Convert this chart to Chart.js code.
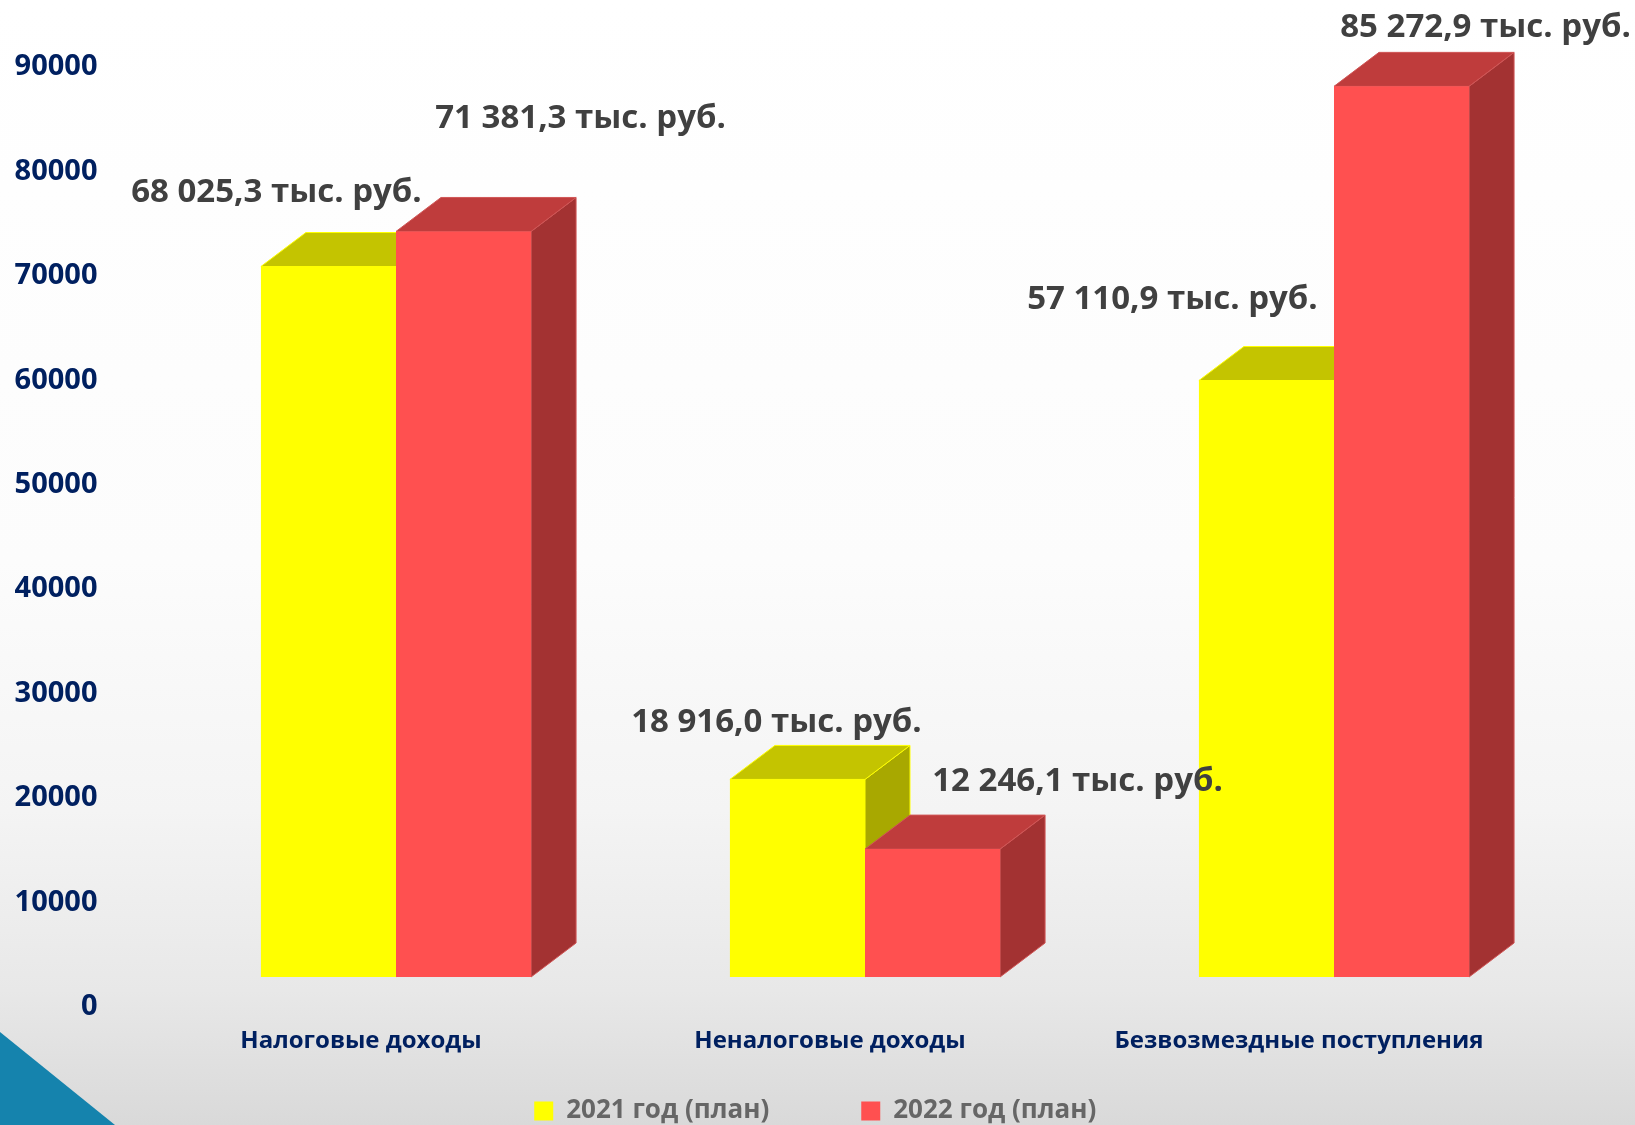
<!DOCTYPE html>
<html><head><meta charset="utf-8">
<script src="https://cdn.jsdelivr.net/npm/chart.js@4"></script>
<style>html,body{margin:0;padding:0;background:#fff}canvas{display:block}</style>
</head><body>
<canvas id="c" width="1635" height="1125" style="width:1635px;height:1125px"></canvas>
<script>
const categories = ["Налоговые доходы", "Неналоговые доходы", "Безвозмездные поступления"];
const seriesNames = ["2021 год (план)", "2022 год (план)"];
const values2021 = [68025.3, 18916.0, 57110.9];
const values2022 = [71381.3, 12246.1, 85272.9];
const yTickStep = 10000;
const yMax = 90000;

const faces = [
  {front:"#ffff00", top:"#c4c400", side:"#a8a800", edge:"#ffff00"},
  {front:"#ff5050", top:"#bf3c3c", side:"#a33232", edge:"#d05656"}
];
const depth = {x:45, y:-34};
const labelShift = [
  [[-52,-74],[-21,-57],[-94,-81]],
  [[117,-113],[145,-68],[84,-59]]
];
const fmt = v => {
  const [a,b] = v.toFixed(1).split(".");
  return a.replace(/\B(?=(\d{3})+$)/g," ") + "," + b + " тыс. руб.";
};
const VALUE_FONT = 'bold 33px "Open Sans"';

const backdrop = {
  id:"backdrop",
  afterLayout(ch){ ch.legend.left += 31; ch.legend.right += 31; },
  beforeDraw(ch){
    const c = ch.ctx, W = ch.width, H = ch.height;
    const g = c.createLinearGradient(0,0,0,H);
    g.addColorStop(0,"#ffffff");
    g.addColorStop(0.5,"#fcfcfc");
    g.addColorStop(0.72,"#f4f4f4");
    g.addColorStop(0.88,"#e8e8e8");
    g.addColorStop(1,"#d9d9d9");
    c.save();
    c.fillStyle = g; c.fillRect(0,0,W,H);
    c.fillStyle = "#1583ad";
    c.beginPath(); c.moveTo(0,1032); c.lineTo(115,H); c.lineTo(0,H); c.closePath(); c.fill();
    c.restore();
  }
};
const extrude = {
  id:"extrude",
  beforeDatasetsDraw(ch){
    const c = ch.ctx;
    // painted left to right so each 2022 box sits in front of its 2021 neighbour
    ch.data.datasets.forEach((ds,i)=>{
      const f = faces[i], meta = ch.getDatasetMeta(i);
      c.save();
      c.lineWidth = 1; c.strokeStyle = f.edge; c.lineJoin = "round";
      meta.data.forEach(b=>{
        const l = b.x-b.width/2, r = b.x+b.width/2, t = b.y, bt = b.base;
        c.fillStyle = f.side;
        c.beginPath(); c.moveTo(r,t); c.lineTo(r+depth.x,t+depth.y); c.lineTo(r+depth.x,bt+depth.y); c.lineTo(r,bt); c.closePath(); c.fill(); c.stroke();
        c.fillStyle = f.top;
        c.beginPath(); c.moveTo(l,t); c.lineTo(l+depth.x,t+depth.y); c.lineTo(r+depth.x,t+depth.y); c.lineTo(r,t); c.closePath(); c.fill(); c.stroke();
      });
      c.restore();
      meta.controller.draw();
    });
    c.save();
    c.font = VALUE_FONT; c.fillStyle = "#404040";
    c.textAlign = "center"; c.textBaseline = "middle";
    ch.data.datasets.forEach((ds,i)=>{
      ch.getDatasetMeta(i).data.forEach((b,j)=>{
        const s = labelShift[i][j];
        c.fillText(fmt(ds.data[j]), b.x+s[0], b.y+s[1]);
      });
    });
    c.restore();
    return false;
  }
};

const chart = new Chart(document.getElementById("c"),{
  type:"bar",
  data:{labels:categories,datasets:[
    {label:seriesNames[0],data:values2021,backgroundColor:faces[0].front,borderWidth:0,categoryPercentage:0.576,barPercentage:1},
    {label:seriesNames[1],data:values2022,backgroundColor:faces[1].front,borderWidth:0,categoryPercentage:0.576,barPercentage:1}
  ]},
  options:{
    responsive:false,animation:false,
    layout:{autoPadding:false,padding:{top:37,right:66.5,left:0,bottom:-9}},
    plugins:{
      tooltip:{enabled:false},
      title:{display:false},
      legend:{position:"bottom",
        labels:{boxWidth:19,boxHeight:19,padding:92,color:"#666666",font:{family:'"Open Sans"',size:26,weight:"bold"}}
      }
    },
    scales:{
      x:{grid:{display:false},border:{display:false},
        ticks:{color:"#002060",labelOffset:-35,padding:42,maxRotation:0,font:{family:'"Open Sans"',size:24,weight:"bold"}},
        afterFit(s){s.height=29; s._computeLabelArea=()=>undefined;}
      },
      y:{min:0,max:yMax,grid:{display:false},border:{display:false},
        ticks:{stepSize:yTickStep,color:"#002060",labelOffset:30,padding:56,callback:v=>String(v),font:{family:'"Open Sans"',size:29,weight:"bold"}},
        afterFit(s){s.width=161.5; s.paddingTop=0; s.paddingBottom=0;}
      }
    }
  },
  plugins:[backdrop,extrude]
});
</script>
</body></html>
